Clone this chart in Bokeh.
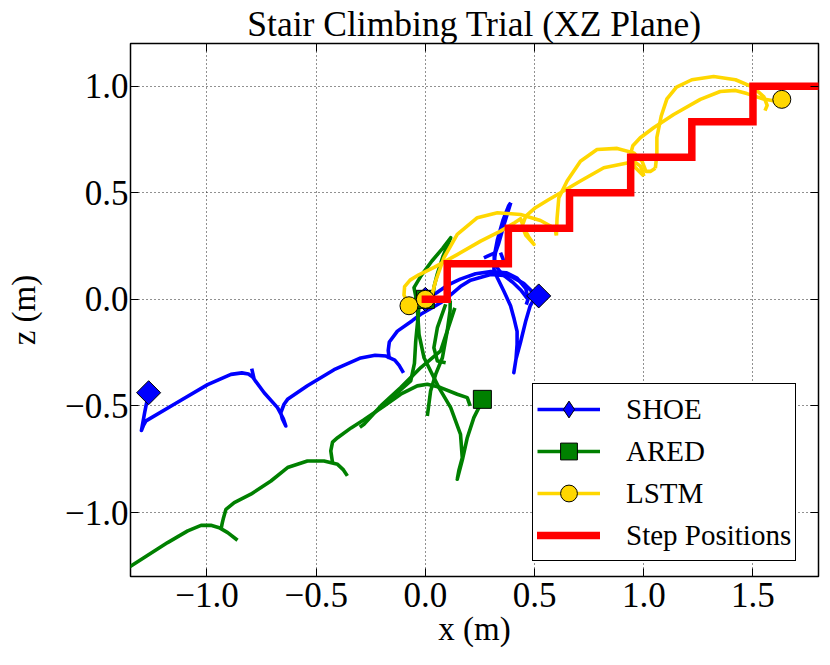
from bokeh.plotting import figure
from bokeh.models import (Range1d, LinearAxis, FixedTicker, CustomJSTickFormatter,
                          Legend, LegendItem)
from bokeh.embed import file_html
from bokeh.resources import INLINE
import math

# ---------------- data ----------------
STEP_X = [0.0, 0.1, 0.1, 0.38, 0.38, 0.66, 0.66, 0.94, 0.94, 1.22, 1.22, 1.5, 1.5, 1.9]
STEP_Z = [0.0, 0.0, 0.167, 0.167, 0.333, 0.333, 0.5, 0.5, 0.667, 0.667, 0.833, 0.833, 1.0, 1.0]

# LSTM trajectory pieces
LSTM_A_X = [-0.075, -0.098, -0.095, -0.07, -0.03, 0.04, 0.146, 0.253, 0.344, 0.41, 0.436, 0.45, 0.475, 0.497,
            0.46, 0.443, 0.46, 0.504, 0.56, 0.619, 0.71, 0.817, 0.924, 0.965, 0.984, 0.995, 1.0]
LSTM_A_Z = [-0.03, 0.02, 0.06, 0.09, 0.115, 0.15, 0.21, 0.273, 0.32, 0.36, 0.378, 0.336, 0.29, 0.258,
            0.3, 0.344, 0.39, 0.43, 0.465, 0.5, 0.555, 0.617, 0.64, 0.64, 0.625, 0.6, 0.578]
LSTM_B_X = [1.0, 0.96, 0.939, 0.95, 0.984, 1.045, 1.137, 1.259, 1.35, 1.42, 1.472, 1.548, 1.6, 1.632]
LSTM_B_Z = [0.578, 0.62, 0.68, 0.72, 0.758, 0.805, 0.867, 0.938, 0.975, 0.98, 0.965, 0.94, 0.93, 0.938]
LSTM_C_X = [0.0, 0.03, 0.047, 0.085, 0.146, 0.238, 0.33, 0.436, 0.527, 0.573, 0.595, 0.6]
LSTM_C_Z = [0.0, 0.02, 0.086, 0.195, 0.305, 0.383, 0.406, 0.398, 0.37, 0.344, 0.325, 0.30]
LSTM_D_X = [0.6, 0.603, 0.611, 0.649, 0.71, 0.786, 0.878, 0.954, 0.992, 1.01, 1.03, 1.053]
LSTM_D_Z = [0.30, 0.38, 0.476, 0.555, 0.648, 0.703, 0.708, 0.687, 0.648, 0.6, 0.6, 0.615]
LSTM_E_X = [1.053, 1.06, 1.06, 1.08, 1.106, 1.15, 1.22, 1.32, 1.42, 1.5, 1.55, 1.565, 1.555]
LSTM_E_Z = [0.615, 0.68, 0.76, 0.86, 0.94, 0.995, 1.03, 1.045, 1.03, 0.995, 0.95, 0.91, 0.885]
LSTM_MX = [-0.075, 0.0, 1.632]
LSTM_MZ = [-0.03, 0.0, 0.938]

# SHOE trajectory pieces
SHOE_A_X = [-1.267, -1.285, -1.3, -1.29, -1.279, -1.15, -0.997, -0.89, -0.84, -0.81, -0.79, -0.78,
            -0.738, -0.677, -0.65, -0.639, -0.655, -0.662, -0.647, -0.631, -0.54, -0.418, -0.296,
            -0.23, -0.18, -0.14, -0.12, -0.1]
SHOE_A_Z = [-0.438, -0.53, -0.615, -0.59, -0.57, -0.492, -0.4, -0.352, -0.345, -0.35, -0.365, -0.38,
            -0.438, -0.508, -0.56, -0.594, -0.56, -0.532, -0.492, -0.469, -0.405, -0.33, -0.275,
            -0.262, -0.266, -0.285, -0.31, -0.345]
SHOE_B_X = [-0.795, -0.785]
SHOE_B_Z = [-0.325, -0.37]
SHOE_C_X = [-0.165, -0.17, -0.165, -0.128, -0.06, -0.021, 0.039, 0.07, 0.12, 0.16, 0.207, 0.299,
            0.39, 0.45, 0.49, 0.519]
SHOE_C_Z = [-0.28, -0.24, -0.2, -0.149, -0.1, -0.07, -0.035, -0.016, 0.025, 0.06, 0.09, 0.117,
            0.109, 0.075, 0.035, 0.016]
SHOE_D_X = [0.0, 0.05, 0.1, 0.16, 0.23, 0.3, 0.37, 0.42, 0.46, 0.47, 0.462]
SHOE_D_Z = [0.0, 0.03, 0.065, 0.095, 0.12, 0.13, 0.125, 0.1, 0.05, 0.0, -0.025]
SHOE_E_X = [0.47, 0.44, 0.4, 0.35, 0.32, 0.315, 0.33, 0.355, 0.382, 0.391]
SHOE_E_Z = [0.0, 0.04, 0.08, 0.12, 0.16, 0.2, 0.28, 0.37, 0.44, 0.453]
SHOE_F_X = [0.391, 0.36, 0.335, 0.321, 0.314, 0.314, 0.33, 0.359, 0.39, 0.405, 0.42, 0.42, 0.415,
            0.405, 0.415, 0.436, 0.46, 0.48, 0.497, 0.519]
SHOE_F_Z = [0.453, 0.35, 0.26, 0.219, 0.17, 0.141, 0.1, 0.039, -0.03, -0.086, -0.15, -0.211, -0.28,
            -0.344, -0.28, -0.2, -0.1, -0.03, 0.0, 0.016]
SHOE_G_X = [0.268, 0.3, 0.321]
SHOE_G_Z = [0.195, 0.21, 0.219]
SHOE_H_X = [0.344, 0.359]
SHOE_H_Z = [0.219, 0.18]
SHOE_MX = [0.0, 0.519, -1.267]
SHOE_MZ = [0.0, 0.016, -0.438]

# ARED trajectory pieces
ARED_A_X = [-1.38, -1.18, -1.088, -1.027, -0.982, -0.944, -0.905, -0.86]
ARED_A_Z = [-1.272, -1.141, -1.086, -1.06, -1.06, -1.071, -1.094, -1.13]
ARED_B_X = [-0.935, -0.93, -0.924, -0.913, -0.875, -0.799, -0.707, -0.631, -0.54, -0.464, -0.402, -0.375, -0.357]
ARED_B_Z = [-1.075, -1.05, -1.024, -0.985, -0.953, -0.914, -0.852, -0.789, -0.758, -0.758, -0.774, -0.8, -0.828]
ARED_C_X = [-0.425, -0.433, -0.425, -0.402, -0.34, -0.281, -0.189, -0.113, -0.037, 0.009, 0.07, 0.146, 0.192, 0.205]
ARED_C_Z = [-0.765, -0.711, -0.67, -0.649, -0.603, -0.565, -0.5, -0.445, -0.406, -0.398, -0.414, -0.445, -0.461, -0.5]
ARED_D_X = [0.261, 0.245, 0.222, 0.192, 0.17, 0.146, 0.154, 0.169, 0.161, 0.116, 0.062, 0.024, -0.006,
            -0.029, -0.037, -0.045, -0.052, -0.02, 0.03, 0.08, 0.116, 0.08, 0.055, 0.04, 0.035]
ARED_D_Z = [-0.469, -0.508, -0.555, -0.649, -0.75, -0.844, -0.8, -0.743, -0.633, -0.508, -0.414, -0.336, -0.274,
            -0.164, -0.039, 0.02, 0.055, 0.11, 0.18, 0.24, 0.289, 0.2, 0.12, 0.06, 0.02]
ARED_E_X = [-0.3, -0.281, -0.204, -0.113, -0.021, 0.07, 0.1, 0.113, 0.114]
ARED_E_Z = [-0.6, -0.586, -0.5, -0.414, -0.32, -0.242, -0.149, -0.055, -0.005]
ARED_F_X = [0.135, 0.1, 0.078, 0.047, 0.024, 0.009]
ARED_F_Z = [-0.04, -0.149, -0.274, -0.352, -0.43, -0.547]
ARED_G_X = [0.093, 0.055, 0.039, 0.055, 0.093]
ARED_G_Z = [-0.023, -0.133, -0.227, -0.289, -0.297]
ARED_H_X = [-0.2, -0.12, -0.067, -0.05, -0.044, -0.035, -0.03]
ARED_H_Z = [-0.5, -0.43, -0.383, -0.3, -0.195, -0.1, -0.04]
ARED_MX = [0.0, 0.261]
ARED_MZ = [0.0, -0.469]

X_TICKS = [-1.0, -0.5, 0.0, 0.5, 1.0, 1.5]
Z_TICKS = [-1.0, -0.5, 0.0, 0.5, 1.0]

SHOE_XS = [SHOE_A_X, SHOE_B_X, SHOE_C_X, SHOE_D_X, SHOE_E_X, SHOE_F_X, SHOE_G_X, SHOE_H_X]
SHOE_ZS = [SHOE_A_Z, SHOE_B_Z, SHOE_C_Z, SHOE_D_Z, SHOE_E_Z, SHOE_F_Z, SHOE_G_Z, SHOE_H_Z]
ARED_XS = [ARED_A_X, ARED_B_X, ARED_C_X, ARED_D_X, ARED_E_X, ARED_F_X, ARED_G_X, ARED_H_X]
ARED_ZS = [ARED_A_Z, ARED_B_Z, ARED_C_Z, ARED_D_Z, ARED_E_Z, ARED_F_Z, ARED_G_Z, ARED_H_Z]
LSTM_XS = [LSTM_A_X, LSTM_B_X, LSTM_C_X, LSTM_D_X, LSTM_E_X]
LSTM_ZS = [LSTM_A_Z, LSTM_B_Z, LSTM_C_Z, LSTM_D_Z, LSTM_E_Z]

# ---------------- figure ----------------
FONT = "Liberation Serif"
BLUE, GREEN, GOLD, RED = "#0000ff", "#008000", "#ffd700", "#ff0000"

p = figure(frame_width=688, frame_height=533,
           x_range=Range1d(-1.35, 1.8), y_range=Range1d(-1.3, 1.2),
           output_backend="svg", toolbar_location=None,
           min_border_left=130, min_border_right=6, min_border_top=43, min_border_bottom=66)

p.title.text = "Stair Climbing Trial (XZ Plane)"
p.title.text_font = FONT
p.title.text_font_size = "35.5px"
p.title.text_font_style = "normal"
p.title.text_color = "black"
p.title.align = "center"
p.title.standoff = 0

p.outline_line_color = "black"
p.outline_line_alpha = 1.0
p.outline_line_width = 1.5

fmt = CustomJSTickFormatter(code="return (tick < 0 ? '\u2212' : '') + Math.abs(tick).toFixed(1);")
blank = CustomJSTickFormatter(code="return '';")

def style_axis(ax, ticks, labels=True):
    ax.ticker = FixedTicker(ticks=ticks)
    ax.formatter = fmt if labels else blank
    ax.axis_line_color = None
    ax.major_tick_in = 8
    ax.major_tick_out = 0
    ax.minor_tick_in = 0
    ax.minor_tick_out = 0
    ax.major_tick_line_color = "black"
    ax.major_tick_line_width = 1
    ax.major_label_text_font = FONT
    ax.major_label_text_font_size = "35px" if labels else "0px"
    ax.major_label_text_color = "black"
    ax.axis_label_text_font = FONT
    ax.axis_label_text_font_size = "33px"
    ax.axis_label_text_font_style = "normal"
    ax.axis_label_text_color = "black"
    if not labels:
        ax.major_label_standoff = 0

style_axis(p.xaxis[0], X_TICKS)
style_axis(p.yaxis[0], Z_TICKS)
p.xaxis[0].axis_label = "x (m)"
p.yaxis[0].axis_label = "z (m)"
p.xaxis[0].major_label_standoff = 6
p.yaxis[0].major_label_standoff = 2
p.xaxis[0].axis_label_standoff = 1
p.yaxis[0].axis_label_standoff = 20

ax_top = LinearAxis()
style_axis(ax_top, X_TICKS, labels=False)
p.add_layout(ax_top, "above")
ax_right = LinearAxis()
style_axis(ax_right, Z_TICKS, labels=False)
p.add_layout(ax_right, "right")

p.xgrid.ticker = FixedTicker(ticks=X_TICKS)
p.ygrid.ticker = FixedTicker(ticks=Z_TICKS)
p.grid.grid_line_color = "#222222"
p.grid.grid_line_dash = "1 3"
p.grid.grid_line_width = 1

LW = 3.6
# SHOE
shoe_line = p.multi_line(xs=SHOE_XS, ys=SHOE_ZS, line_color=BLUE, line_width=LW, line_join="round")
shoe_pts = p.scatter(SHOE_MX, SHOE_MZ, marker="square", size=17, angle=math.pi / 4,
                     fill_color=BLUE, line_color="black", line_width=1)
shoe_leg = p.scatter(SHOE_MX, SHOE_MZ, marker="diamond", size=0,
                     fill_color=BLUE, line_color="black", line_width=1)
# ARED
ared_line = p.multi_line(xs=ARED_XS, ys=ARED_ZS, line_color=GREEN, line_width=LW, line_join="round")
ared_pts = p.scatter(ARED_MX, ARED_MZ, marker="square", size=18,
                     fill_color=GREEN, line_color="black", line_width=1)
# LSTM
lstm_line = p.multi_line(xs=LSTM_XS, ys=LSTM_ZS, line_color=GOLD, line_width=LW, line_join="round")
lstm_pts = p.scatter(LSTM_MX, LSTM_MZ, marker="circle", size=18,
                     fill_color=GOLD, line_color="black", line_width=1)
# Steps
step_line = p.line(STEP_X, STEP_Z, line_color=RED, line_width=7.5, line_join="miter",
                   line_cap="square")

legend = Legend(items=[
    LegendItem(label="SHOE", renderers=[shoe_line, shoe_leg]),
    LegendItem(label="ARED", renderers=[ared_line, ared_pts]),
    LegendItem(label="LSTM", renderers=[lstm_line, lstm_pts]),
    LegendItem(label="Step Positions", renderers=[step_line]),
], location=(402, 15))
legend.label_text_font = FONT
legend.label_text_font_size = "29px"
legend.label_text_color = "black"
legend.glyph_width = 63
legend.glyph_height = 42
legend.label_height = 42
legend.spacing = 0
legend.padding = 4
legend.margin = 0
legend.label_standoff = 26
legend.border_line_color = "black"
legend.border_line_alpha = 1.0
legend.border_line_width = 1.5
legend.background_fill_color = "white"
legend.background_fill_alpha = 1
p.add_layout(legend)

open("out.html", "w").write(file_html(p, INLINE))
